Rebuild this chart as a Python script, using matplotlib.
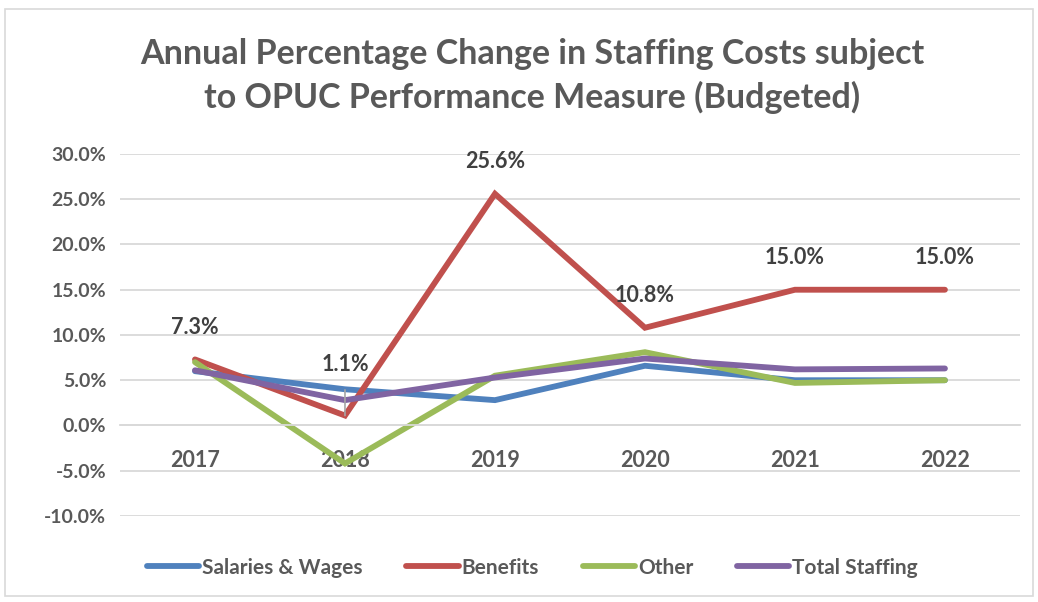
import matplotlib
matplotlib.use("Agg")
import matplotlib.pyplot as plt
from matplotlib.ticker import FuncFormatter

years = ["2017", "2018", "2019", "2020", "2021", "2022"]
salaries = [6.0, 4.0, 2.8, 6.6, 5.0, 5.0]
benefits = [7.3, 1.1, 25.6, 10.8, 15.0, 15.0]
other = [7.0, -4.2, 5.5, 8.1, 4.7, 5.0]
total = [6.1, 2.8, 5.3, 7.4, 6.2, 6.3]

series_names = ["Salaries & Wages", "Benefits", "Other", "Total Staffing"]
colors = ["#4F81BD", "#C0504D", "#9BBB59", "#8064A2"]

plt.rcParams['font.family'] = ['Lato', 'DejaVu Sans']
txt_gray = "#595959"
grid_gray = "#D9D9D9"

fig = plt.figure(figsize=(10.38, 6.02), dpi=100)
ax = fig.add_axes([0.1156, 0.1429, 0.867, 0.6013])

x = list(range(len(years)))
for vals, name, c in zip([salaries, benefits, other, total], series_names, colors):
    ax.plot(x, vals, color=c, lw=4.2, label=name, solid_capstyle='round', solid_joinstyle='miter')

# data labels on benefits
for i, v in enumerate(benefits):
    if i == 1:
        ax.annotate(f"{v:.1f}%", (i, v), xytext=(0, 37), textcoords='offset points',
                    ha='center', va='center', fontsize=15.5, fontweight='bold', color="#404040",
                    arrowprops=dict(arrowstyle='-', color='#A6A6A6', lw=1.2, shrinkA=9, shrinkB=0))
    else:
        ax.annotate(f"{v:.1f}%", (i, v), xytext=(0, 23), textcoords='offset points',
                    ha='center', va='center', fontsize=15.5, fontweight='bold', color="#404040")

ax.set_xlim(-0.5, len(years) - 0.5)
ax.set_ylim(-10, 30)
ax.set_yticks(range(-10, 31, 5))
ax.yaxis.set_major_formatter(FuncFormatter(lambda v, p: f"{v:.1f}%"))
ax.set_xticks(x)
ax.set_xticklabels(years)
ax.grid(axis='y', color=grid_gray, lw=1.3)
ax.set_axisbelow(True)
for s in ['top', 'right', 'left']:
    ax.spines[s].set_visible(False)
ax.spines['bottom'].set_position(('data', 0))
ax.spines['bottom'].set_color(grid_gray)
ax.spines['bottom'].set_linewidth(1.3)
ax.tick_params(axis='both', length=0, labelcolor=txt_gray)
ax.tick_params(axis='x', pad=18, labelsize=15.5)
ax.tick_params(axis='y', pad=10, labelsize=14)
for lab in ax.get_xticklabels() + ax.get_yticklabels():
    lab.set_fontweight('bold')

fig.text(0.513, 0.873, "Annual Percentage Change in Staffing Costs subject\nto OPUC Performance Measure (Budgeted)",
         ha='center', va='center', fontsize=24.5, fontweight='bold', color=txt_gray, linespacing=1.4)

leg = fig.legend(loc='center', bbox_to_anchor=(0.513, 0.057), ncol=4, frameon=False,
                 fontsize=15, handlelength=2.5, columnspacing=2.1, handletextpad=0.15)
for t in leg.get_texts():
    t.set_color(txt_gray)
    t.set_fontweight('bold')

fig.patches.append(plt.Rectangle((0.005, 0.01), 0.99, 0.975, transform=fig.transFigure,
                                 fill=False, edgecolor=grid_gray, lw=1.2))

fig.savefig("out.png", dpi=100, facecolor='white')
